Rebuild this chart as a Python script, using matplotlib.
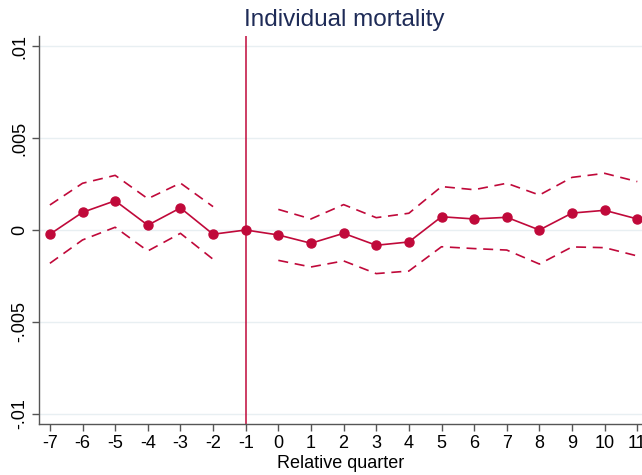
import numpy as np
import matplotlib
matplotlib.use("Agg")
import matplotlib.pyplot as plt

quarters = [-7, -6, -5, -4, -3, -2, -1, 0, 1, 2, 3, 4, 5, 6, 7, 8, 9, 10, 11]
estimate = [-0.00023, 0.00096, 0.00159, 0.00026, 0.00120, -0.00023, 0.0,
            -0.00027, -0.00072, -0.00018, -0.00083, -0.00065, 0.00072, 0.00060,
            0.00069, 0.0, 0.00092, 0.00107, 0.00060]
ci_upper = [0.00136, 0.00254, 0.00297, 0.00170, 0.00255, 0.00127, np.nan,
            0.00112, 0.00060, 0.00138, 0.00067, 0.00091, 0.00236, 0.00219,
            0.00254, 0.00190, 0.00286, 0.00308, 0.00263]
ci_lower = [-0.00181, -0.00054, 0.00015, -0.00114, -0.00018, -0.00159, np.nan,
            -0.00165, -0.00201, -0.00168, -0.00237, -0.00223, -0.00091, -0.00101,
            -0.00109, -0.00185, -0.00092, -0.00096, -0.00141]
yticks = [-0.01, -0.005, 0, 0.005, 0.01]
ytick_labels = ["-.01", "-.005", "0", ".005", ".01"]
title = "Individual mortality"
xlabel = "Relative quarter"
ref_quarter = -1

plt.rcParams['font.family'] = ['Liberation Sans', 'DejaVu Sans']
red = "#C0093A"

fig = plt.figure(figsize=(6.42, 4.75), dpi=100)
ax = fig.add_axes([39/642, 1-424.3/475, 1-39/642, (424.3-35.7)/475])

for y in yticks:
    ax.axhline(y, color="#E8EFF2", lw=1.0, zorder=0)

ax.axvline(ref_quarter, color=red, lw=1.1, zorder=1)

ax.plot(quarters, ci_upper, color=red, lw=1.2, ls=(0, (6, 4)), zorder=2)
ax.plot(quarters, ci_lower, color=red, lw=1.2, ls=(0, (6, 4)), zorder=2)
ax.plot(quarters, estimate, color=red, lw=1.2, marker="o", ms=6.5,
        markeredgecolor=red, markerfacecolor=red, zorder=3)

ax.set_xlim(-7.334, 11.144)
ax.set_ylim(-0.01056, 0.01056)
ax.set_xticks(quarters)
ax.set_xticklabels([str(q) for q in quarters], fontsize=13)
ax.set_yticks(yticks)
ax.set_yticklabels(ytick_labels, fontsize=13, rotation=90, va="center")

for s in ["top", "right"]:
    ax.spines[s].set_visible(False)
for s in ["left", "bottom"]:
    ax.spines[s].set_color("#555555")
    ax.spines[s].set_linewidth(1.0)
ax.tick_params(axis="both", direction="out", length=5, width=1.0, color="#555555",
               labelcolor="black", pad=3)

ax.set_xlabel(xlabel, fontsize=13, labelpad=2)
fig.text(0.536, 1-20/475, title, ha="center", va="center", fontsize=17.5, color="#1E2B57")

fig.savefig("out.png", dpi=100)
